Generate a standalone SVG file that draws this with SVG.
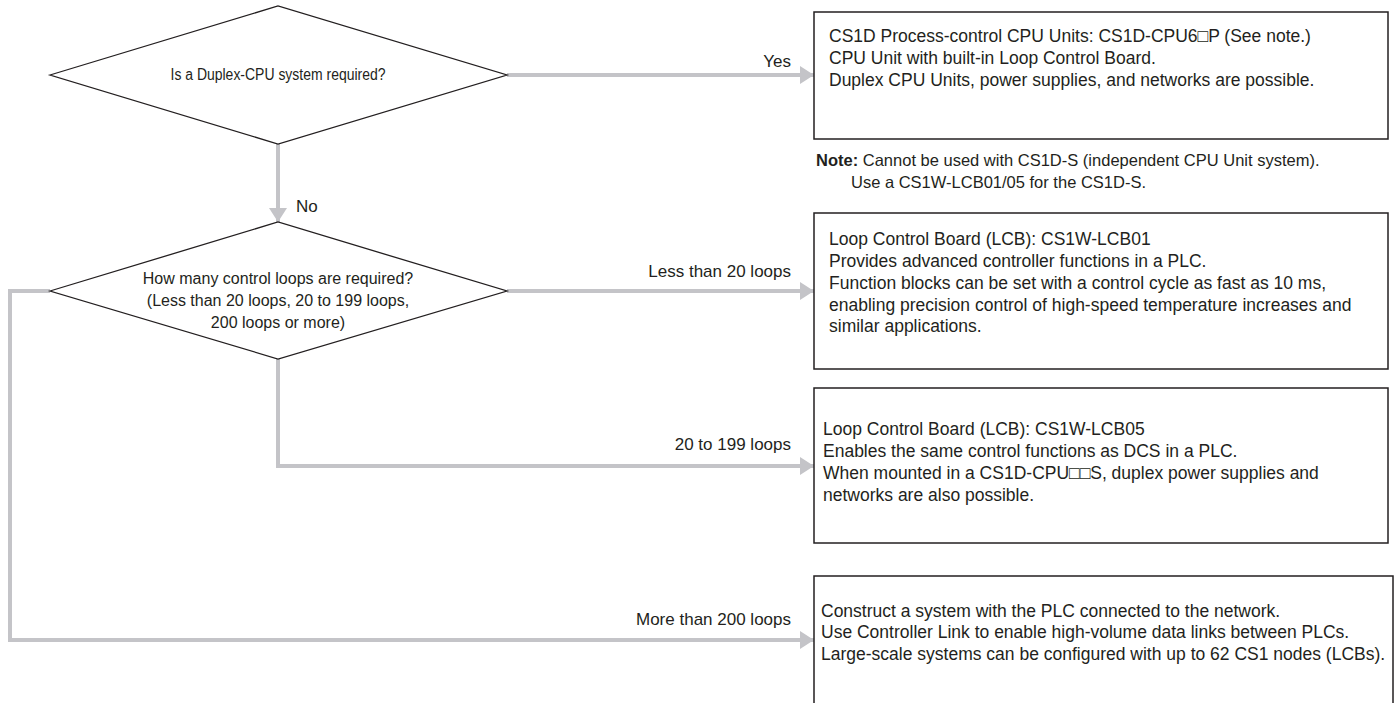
<svg xmlns="http://www.w3.org/2000/svg" width="1395" height="703" viewBox="0 0 1395 703">
<defs>
<style>
text{font-family:"Liberation Sans","DejaVu Sans",Arial,sans-serif;fill:#231f20;font-size:17.5px}
.dt{font-size:16px;text-anchor:middle}
.lbl{text-anchor:end;font-size:17px}
.nt{font-size:16.5px}
.box{fill:#fff;stroke:#231f20;stroke-width:1.5}
.dia{fill:#fff;stroke:#231f20;stroke-width:1.3}
.con{fill:none;stroke:#c4c4c8;stroke-width:4}
</style>
<marker id="ah" viewBox="0 0 14 18" refX="14" refY="9" markerWidth="14" markerHeight="18" markerUnits="userSpaceOnUse" orient="auto">
<path d="M0,0 L14,9 L0,18 Z" fill="#c4c4c8"/>
</marker>
</defs>
<rect width="1395" height="703" fill="#fff"/>
<g id="connectors">
<path class="con" d="M507,75 H814" marker-end="url(#ah)"/>
<path class="con" d="M278,144 V222" marker-end="url(#ah)"/>
<path class="con" d="M507,291 H814" marker-end="url(#ah)"/>
<path class="con" d="M278,359 V466 H814" marker-end="url(#ah)"/>
<path class="con" d="M50,291 H10 V640 H814" marker-end="url(#ah)"/>
<text class="lbl" x="791" y="67">Yes</text>
<text class="lbl" x="296" y="212" style="text-anchor:start">No</text>
<text class="lbl" x="791" y="277">Less than 20 loops</text>
<text class="lbl" x="791" y="450">20 to 199 loops</text>
<text class="lbl" x="791" y="625">More than 200 loops</text>
</g>
<g id="d1">
<polygon class="dia" points="50,75 278,6 507,75 278,144"/>
<text class="dt" x="278" y="80" textLength="215" lengthAdjust="spacingAndGlyphs">Is a Duplex-CPU system required?</text>
</g>
<g id="d2">
<polygon class="dia" points="50,291 278,222 507,291 278,359"/>
<text class="dt" x="278" y="284">How many control loops are required?</text>
<text class="dt" x="278" y="306">(Less than 20 loops, 20 to 199 loops,</text>
<text class="dt" x="278" y="328">200 loops or more)</text>
</g>
<g id="b1">
<rect class="box" x="814" y="12" width="574" height="127"/>
<text x="829" y="42">CS1D Process-control CPU Units: CS1D-CPU6□P (See note.)</text>
<text x="829" y="64">CPU Unit with built-in Loop Control Board.</text>
<text x="829" y="86">Duplex CPU Units, power supplies, and networks are possible.</text>
</g>
<g id="note">
<text class="nt" x="816" y="166"><tspan font-weight="bold">Note:</tspan> Cannot be used with CS1D-S (independent CPU Unit system).</text>
<text class="nt" x="851" y="188">Use a CS1W-LCB01/05 for the CS1D-S.</text>
</g>
<g id="b2">
<rect class="box" x="814" y="213" width="574" height="156"/>
<text x="829" y="245">Loop Control Board (LCB): CS1W-LCB01</text>
<text x="829" y="267">Provides advanced controller functions in a PLC.</text>
<text x="829" y="289">Function blocks can be set with a control cycle as fast as 10 ms,</text>
<text x="829" y="311">enabling precision control of high-speed temperature increases and</text>
<text x="829" y="332">similar applications.</text>
</g>
<g id="b3">
<rect class="box" x="814" y="388" width="574" height="155"/>
<text x="823" y="435">Loop Control Board (LCB): CS1W-LCB05</text>
<text x="823" y="457">Enables the same control functions as DCS in a PLC.</text>
<text x="823" y="479">When mounted in a CS1D-CPU□□S, duplex power supplies and</text>
<text x="823" y="501">networks are also possible.</text>
</g>
<g id="b4">
<rect class="box" x="814" y="576" width="579" height="140"/>
<text x="821" y="617">Construct a system with the PLC connected to the network.</text>
<text x="821" y="638">Use Controller Link to enable high-volume data links between PLCs.</text>
<text x="821" y="660">Large-scale systems can be configured with up to 62 CS1 nodes (LCBs).</text>
</g>
</svg>
